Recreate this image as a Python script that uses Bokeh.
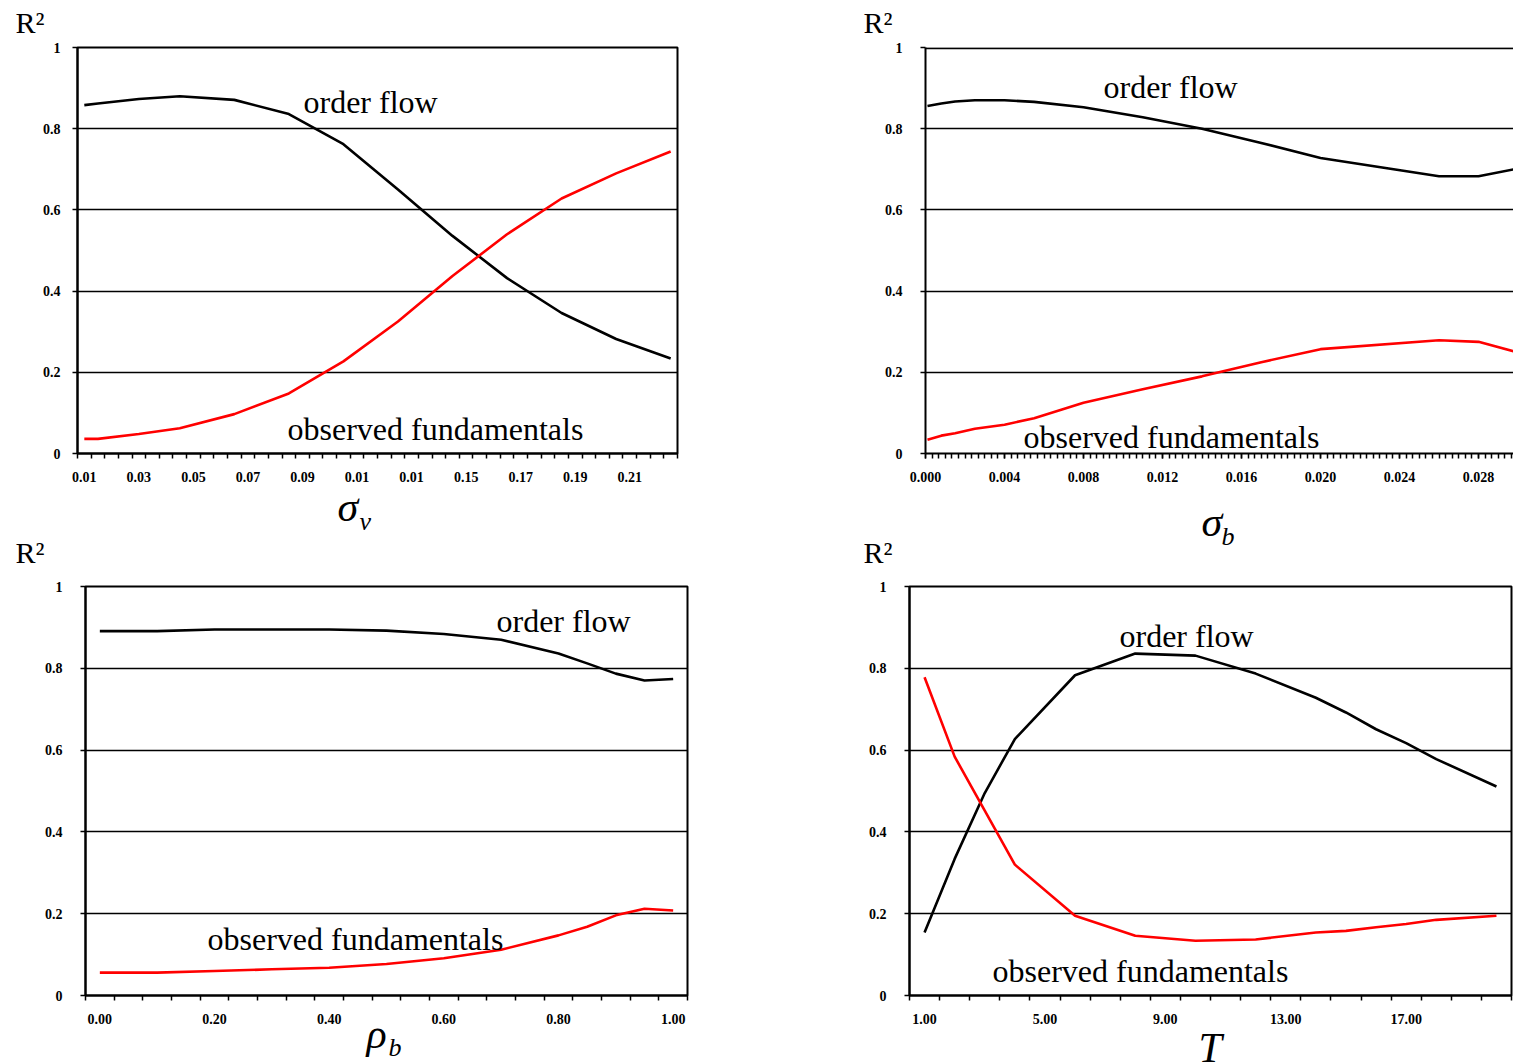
from bokeh.plotting import figure
from bokeh.models import FixedTicker, Label, Range1d, Span
from bokeh.layouts import column, row
from bokeh.core.properties import value
from bokeh.embed import file_html
from bokeh.resources import INLINE

# ---------------- data ----------------
# Panel 1: sigma_v
SIGMA_V = [0.01, 0.015, 0.03, 0.045, 0.065, 0.085, 0.105, 0.125, 0.145, 0.165, 0.185, 0.205, 0.225]
OF_SIGMA_V = [0.858, 0.862, 0.873, 0.880, 0.871, 0.836, 0.762, 0.650, 0.536, 0.432, 0.346, 0.282, 0.234]
FUND_SIGMA_V = [0.036, 0.036, 0.048, 0.062, 0.097, 0.148, 0.227, 0.325, 0.437, 0.540, 0.628, 0.690, 0.744]
SIGMA_V_LABELS = ["0.01", "0.03", "0.05", "0.07", "0.09", "0.01", "0.01", "0.15", "0.17", "0.19", "0.21"]
SIGMA_V_CAT_FIRST = 0.01
SIGMA_V_CAT_STEP = 0.005
SIGMA_V_NCAT = 44

# Panel 2: sigma_b
SIGMA_B = [0.0001, 0.0008, 0.0015, 0.0025, 0.004, 0.0055, 0.008, 0.011, 0.014, 0.017, 0.020, 0.026, 0.028, 0.030]
OF_SIGMA_B = [0.856, 0.862, 0.867, 0.870, 0.870, 0.866, 0.853, 0.828, 0.800, 0.765, 0.728, 0.683, 0.683, 0.702]
FUND_SIGMA_B = [0.034, 0.044, 0.050, 0.061, 0.071, 0.087, 0.125, 0.158, 0.190, 0.225, 0.257, 0.279, 0.275, 0.249]
SIGMA_B_TICKS = [0.000, 0.004, 0.008, 0.012, 0.016, 0.020, 0.024, 0.028]
SIGMA_B_LABELS = ["0.000", "0.004", "0.008", "0.012", "0.016", "0.020", "0.024", "0.028"]
SIGMA_B_MAX = 0.02977

# Panel 3: rho_b
RHO_B = [0.00, 0.10, 0.20, 0.30, 0.40, 0.50, 0.60, 0.70, 0.80, 0.85, 0.90, 0.95, 1.00]
OF_RHO_B = [0.891, 0.891, 0.895, 0.895, 0.895, 0.892, 0.884, 0.870, 0.836, 0.812, 0.787, 0.770, 0.774]
FUND_RHO_B = [0.056, 0.056, 0.060, 0.064, 0.068, 0.077, 0.091, 0.112, 0.147, 0.168, 0.196, 0.212, 0.208]
RHO_B_LABELS = ["0.00", "0.20", "0.40", "0.60", "0.80", "1.00"]
RHO_B_CAT_FIRST = 0.0
RHO_B_CAT_STEP = 0.05
RHO_B_NCAT = 21

# Panel 4: T
T_VALS = [1, 2, 3, 4, 6, 8, 10, 12, 14, 15, 16, 17, 18, 20]
OF_T = [0.154, 0.334, 0.495, 0.627, 0.783, 0.836, 0.831, 0.787, 0.728, 0.692, 0.651, 0.617, 0.578, 0.511]
FUND_T = [0.778, 0.584, 0.452, 0.320, 0.195, 0.146, 0.134, 0.137, 0.154, 0.158, 0.167, 0.175, 0.185, 0.195]
T_LABELS = ["1.00", "5.00", "9.00", "13.00", "17.00"]
T_CAT_FIRST = 1
T_CAT_STEP = 1
T_NCAT = 20

Y_TICKS = [0, 0.2, 0.4, 0.6, 0.8, 1]
Y_LABELS = ["0", "0.2", "0.4", "0.6", "0.8", "1"]

SERIES_NAMES = ["order flow", "observed fundamentals"]

SERIF = "Liberation Serif"
RED = "#ff0000"
BLACK = "#000000"
PAGE_W = 1513
BASE_SHIFT = 0.34   # baseline correction, fraction of font size
NAME_SIZE = 32


def make_panel(width, height, bl, br, bt, bb, xr, ystand, xstand):
    p = figure(width=width, height=height, x_range=Range1d(*xr), y_range=Range1d(0, 1),
               output_backend="svg", toolbar_location=None,
               min_border_left=bl, min_border_right=br, min_border_top=bt, min_border_bottom=bb)
    p.background_fill_color = "white"
    p.border_fill_color = "white"
    p.outline_line_color = BLACK
    p.outline_line_width = 2
    p.xgrid.visible = False
    p.ygrid.ticker = FixedTicker(ticks=[0.2, 0.4, 0.6, 0.8])
    p.ygrid.grid_line_color = BLACK
    p.ygrid.grid_line_width = 1.4
    ya = p.yaxis[0]
    ya.ticker = FixedTicker(ticks=Y_TICKS)
    ya.major_label_overrides = {t: s for t, s in zip(Y_TICKS, Y_LABELS)}
    ya.axis_line_color = BLACK
    ya.axis_line_width = 2
    ya.major_tick_line_color = BLACK
    ya.major_tick_line_width = 1.5
    ya.major_tick_out = 5
    ya.major_tick_in = 0
    ya.minor_tick_line_color = None
    ya.major_label_text_font = SERIF
    ya.major_label_text_font_style = "bold"
    ya.major_label_text_font_size = "14px"
    ya.major_label_text_color = BLACK
    ya.major_label_standoff = ystand
    xa = p.xaxis[0]
    xa.axis_line_color = BLACK
    xa.axis_line_width = 2
    xa.major_label_text_font = SERIF
    xa.major_label_text_font_style = "bold"
    xa.major_label_text_font_size = "14px"
    xa.major_label_text_color = BLACK
    xa.major_label_standoff = xstand
    xa.major_label_orientation = "horizontal"
    return p


def series_label(p, frame, px, py, text):
    """Place a series name; frame = (left, right, top, bottom) in page px, px/py = left/baseline."""
    fl, fr, ft, fb = frame
    x0, x1 = p.x_range.start, p.x_range.end
    x = x0 + (px - fl) / (fr - fl) * (x1 - x0)
    y = (fb - (py - BASE_SHIFT * NAME_SIZE)) / (fb - ft)
    p.add_layout(Label(x=x, y=y, text=text, text_font=SERIF, text_font_size=f"{NAME_SIZE}px",
                       text_align="left", text_baseline="alphabetic", text_color=BLACK))


def category_axis(p, first, step, ncat, every, labels):
    xa = p.xaxis[0]
    majors = [round(first + step * every * i, 6) for i in range(len(labels))]
    minors = [round(first - step / 2 + step * j, 6) for j in range(ncat + 1)]
    xa.ticker = FixedTicker(ticks=majors, minor_ticks=minors)
    xa.major_label_overrides = {t: s for t, s in zip(majors, labels)}
    xa.major_tick_out = 0
    xa.major_tick_in = 0
    xa.major_tick_line_color = None
    xa.minor_tick_line_color = BLACK
    xa.minor_tick_line_width = 1.5
    xa.minor_tick_out = 5
    xa.minor_tick_in = 0


def draw_series(p, xs, of, fund):
    p.line(xs, of, line_color=BLACK, line_width=2.6)
    p.line(xs, fund, line_color=RED, line_width=2.6)


def text_strip(top, bottom, items):
    """A full-width strip (no axes) whose data coordinates are page pixels."""
    s = figure(width=PAGE_W, height=bottom - top, x_range=Range1d(0, PAGE_W),
               y_range=Range1d(bottom, top), output_backend="svg", toolbar_location=None,
               min_border=0, x_axis_location=None, y_axis_location=None)
    s.xgrid.visible = False
    s.ygrid.visible = False
    s.outline_line_color = None
    s.background_fill_color = "white"
    s.border_fill_color = "white"
    for (x, y, txt, size, style) in items:
        s.text(x=[x], y=[y - BASE_SHIFT * size], text=[txt], text_font=value(SERIF),
               text_font_size=value(f"{size}px"), text_font_style=style, text_align="left",
               text_baseline="alphabetic", text_color=BLACK)
    return s


# ---------------- layout (page pixels) ----------------
ROW1_TOP, ROW1_BOT = 40, 484
ROW2_TOP, ROW2_BOT = 577, 1026
PAGE_H = 1063

stripA = text_strip(0, ROW1_TOP, [
    (15, 32, "R²", 30, "normal"),
    (863, 32, "R²", 30, "normal"),
])

# Panel 1  (frame 77..677 x 47..454)
H1 = ROW1_BOT - ROW1_TOP
xr1 = (SIGMA_V_CAT_FIRST - SIGMA_V_CAT_STEP / 2,
       SIGMA_V_CAT_FIRST + SIGMA_V_CAT_STEP * (SIGMA_V_NCAT - 0.5))
p1 = make_panel(760, H1, 77, 83, 7, 30, xr1, 12, 13)
category_axis(p1, SIGMA_V_CAT_FIRST, SIGMA_V_CAT_STEP, SIGMA_V_NCAT, 4, SIGMA_V_LABELS)
draw_series(p1, SIGMA_V, OF_SIGMA_V, FUND_SIGMA_V)
F1 = (77, 677, 47, 454)
series_label(p1, F1, 303, 113, SERIES_NAMES[0])
series_label(p1, F1, 287, 440, SERIES_NAMES[1])

# Panel 2  (frame 925..1513 x 47..454)
p2 = make_panel(753, H1, 165, 0, 7, 30, (0.0, SIGMA_B_MAX), 18, 13)
p2.outline_line_color = None
p2.add_layout(Span(location=0.998, dimension="width", line_color=BLACK, line_width=2))
xa2 = p2.xaxis[0]
minor2 = [i * 0.004 / 12 for i in range(int(SIGMA_B_MAX / (0.004 / 12)) + 1)]
xa2.ticker = FixedTicker(ticks=SIGMA_B_TICKS, minor_ticks=minor2)
xa2.major_label_overrides = {t: s for t, s in zip(SIGMA_B_TICKS, SIGMA_B_LABELS)}
xa2.major_tick_line_color = BLACK
xa2.major_tick_line_width = 1.5
xa2.major_tick_out = 5
xa2.major_tick_in = 0
xa2.minor_tick_line_color = BLACK
xa2.minor_tick_line_width = 1.5
xa2.minor_tick_out = 5
xa2.minor_tick_in = 0
draw_series(p2, SIGMA_B, OF_SIGMA_B, FUND_SIGMA_B)
F2 = (925, 1513, 47, 454)
series_label(p2, F2, 1103, 97, SERIES_NAMES[0])
series_label(p2, F2, 1023, 448, SERIES_NAMES[1])

stripB = text_strip(ROW1_BOT, ROW2_TOP, [
    (337, 521, "σ", 42, "italic"),
    (359, 530, "v", 26, "italic"),
    (1201, 536, "σ", 42, "italic"),
    (1221, 545, "b", 26, "italic"),
    (15, 562, "R²", 30, "normal"),
    (863, 562, "R²", 30, "normal"),
])

# Panel 3  (frame 85..687 x 586..997)
H2 = ROW2_BOT - ROW2_TOP
xr3 = (RHO_B_CAT_FIRST - RHO_B_CAT_STEP / 2,
       RHO_B_CAT_FIRST + RHO_B_CAT_STEP * (RHO_B_NCAT - 0.5))
p3 = make_panel(800, H2, 85, 113, 9, 29, xr3, 18, 13)
category_axis(p3, RHO_B_CAT_FIRST, RHO_B_CAT_STEP, RHO_B_NCAT, 4, RHO_B_LABELS)
draw_series(p3, RHO_B, OF_RHO_B, FUND_RHO_B)
F3 = (85, 687, 586, 997)
series_label(p3, F3, 496, 632, SERIES_NAMES[0])
series_label(p3, F3, 207, 951, SERIES_NAMES[1])

# Panel 4  (frame 909..1511 x 586..997)
xr4 = (T_CAT_FIRST - T_CAT_STEP / 2, T_CAT_FIRST + T_CAT_STEP * (T_NCAT - 0.5))
p4 = make_panel(713, H2, 109, 2, 9, 29, xr4, 18, 13)
category_axis(p4, T_CAT_FIRST, T_CAT_STEP, T_NCAT, 4, T_LABELS)
draw_series(p4, T_VALS, OF_T, FUND_T)
F4 = (909, 1511, 586, 997)
series_label(p4, F4, 1119, 647, SERIES_NAMES[0])
series_label(p4, F4, 992, 983, SERIES_NAMES[1])

stripC = text_strip(ROW2_BOT, PAGE_H, [
    (366, 1048, "ρ", 42, "italic"),
    (388, 1056, "b", 26, "italic"),
    (1198, 1062, "T", 42, "italic"),
])

layout = column(stripA, row(p1, p2, spacing=0), stripB, row(p3, p4, spacing=0), stripC,
                spacing=0)

open("out.html", "w").write(file_html(layout, INLINE))
